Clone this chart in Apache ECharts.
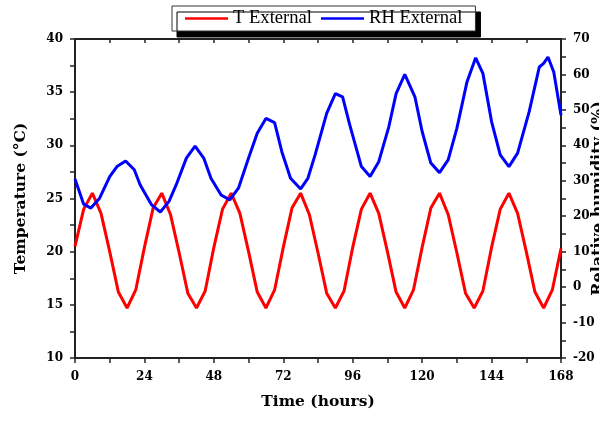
<!DOCTYPE html>
<html>
<head>
<meta charset="utf-8">
<script src="https://cdn.jsdelivr.net/npm/echarts@6/dist/echarts.min.js"></script>
<style>html,body{margin:0;padding:0;background:#fff;}#c{width:599px;height:423px;}</style>
</head>
<body>
<div id="c"></div>
<script>
// Temperature, sampled every 3 hours
var tHours = [0,3,6,9,12,15,18,21,24,27,30,33,36,39,42,45,48,51,54,57,60,63,66,69,72,75,78,81,84,87,90,93,96,99,102,105,108,111,114,117,120,123,126,129,132,135,138,141,144,147,150,153,156,159,162,165,168];
var tValues = [20.5,24.0,25.5,23.6,20.0,16.2,14.7,16.4,
               20.4,24.1,25.5,23.5,19.9,16.1,14.7,16.3,
               20.4,24.0,25.5,23.6,20.0,16.2,14.7,16.4,
               20.4,24.1,25.5,23.5,19.9,16.1,14.7,16.3,
               20.4,24.0,25.5,23.6,20.0,16.2,14.7,16.4,
               20.4,24.1,25.5,23.5,19.9,16.1,14.7,16.3,
               20.4,24.0,25.5,23.6,20.0,16.2,14.7,16.4,
               20.3];
// Relative humidity
var rhHours = [0,3,5.5,8.5,12,14.5,17.5,20.5,22.5,26.5,29.5,32.5,35,38.5,41.5,44.5,47,50.5,53.5,56.5,60,63,66,69,71.5,74.5,78,80.5,83,87,90,92.5,95,99,102,105,108.5,111,114,117.5,120,123,126,129,132,135.5,138.5,141,144,147,150,153,157,160.5,162,163.5,165.5,168];
var rhValues = [30.5,23.4,22.3,25.1,31.2,34.0,35.6,33.1,28.9,23.2,21.2,24.2,28.9,36.4,39.8,36.4,30.7,26.0,24.6,27.9,36.4,43.4,47.6,46.4,38.2,30.7,27.7,30.7,37.3,49.0,54.6,53.7,45.7,34.0,31.2,35.4,45.3,54.6,60.0,53.7,43.9,35.0,32.3,35.9,44.8,57.9,64.7,60.3,46.7,37.3,34.0,37.8,49.5,62.1,63.1,64.9,60.7,48.5];
var seriesNames = ['T External','RH External'];

function pairs(xs, ys){ return xs.map(function(x,i){ return [x, ys[i]]; }); }

var tickFont = {fontFamily:'DejaVu Serif', fontWeight:'bold', fontSize:12, color:'#000'};
var nameFont = {fontFamily:'DejaVu Serif', fontWeight:'bold', fontSize:15.5, color:'#000'};
var axisLine = {show:true, onZero:false, lineStyle:{color:'#222', width:2}};

var chart = echarts.init(document.getElementById('c'), null, {renderer:'canvas'});
chart.setOption({
  animation:false,
  backgroundColor:'#fff',
  grid:{left:75, right:38, top:39, bottom:65, containLabel:false, outerBoundsMode:'none'},
  legend:{
    left:172, top:6,
    data:seriesNames,
    icon:'rect', itemWidth:43, itemHeight:2.5, itemGap:9,
    padding:[3,13,3,13],
    backgroundColor:'#fff', borderColor:'#333', borderWidth:1,
    shadowColor:'#000', shadowBlur:0, shadowOffsetX:5, shadowOffsetY:6,
    textStyle:{fontFamily:'Liberation Serif', fontSize:18.6, color:'#000'}
  },
  xAxis:[{
    type:'value', position:'bottom', min:0, max:168, interval:24,
    axisLine:axisLine,
    axisTick:{show:true, inside:false, length:5, lineStyle:{color:'#222', width:1.5}},
    minorTick:{show:true, splitNumber:2, length:5, lineStyle:{color:'#222', width:1.5}},
    axisLabel:Object.assign({margin:13}, tickFont),
    splitLine:{show:false},
    name:'Time (hours)', nameLocation:'middle', nameGap:36, nameTextStyle:nameFont, nameMoveOverlap:false
  },{
    type:'value', position:'top', min:0, max:168, interval:12,
    axisLine:axisLine,
    axisTick:{show:true, inside:true, length:4, lineStyle:{color:'#222', width:1.5}},
    axisLabel:{show:false}, splitLine:{show:false}
  }],
  yAxis:[{
    type:'value', position:'left', min:10, max:40, interval:5,
    axisLine:axisLine,
    axisTick:{show:true, inside:false, length:5, lineStyle:{color:'#222', width:1.5}},
    minorTick:{show:true, splitNumber:2, length:5, lineStyle:{color:'#222', width:1.5}},
    axisLabel:Object.assign({margin:12}, tickFont),
    splitLine:{show:false},
    name:'Temperature (°C)', nameLocation:'middle', nameGap:46, nameTextStyle:nameFont, nameMoveOverlap:false
  },{
    type:'value', position:'right', min:-20, max:70, interval:10,
    axisLine:axisLine,
    axisTick:{show:true, inside:false, length:5, lineStyle:{color:'#222', width:1.5}},
    minorTick:{show:true, splitNumber:2, length:5, lineStyle:{color:'#222', width:1.5}},
    axisLabel:Object.assign({margin:12}, tickFont),
    splitLine:{show:false},
    name:'Relative humidity (%)', nameLocation:'middle', nameGap:30,
    nameTextStyle:Object.assign({}, nameFont, {fontSize:16}), nameMoveOverlap:false
  }],
  series:[{
    name:seriesNames[0], type:'line', xAxisIndex:0, yAxisIndex:0,
    data:pairs(tHours, tValues), showSymbol:false, symbol:'none',
    lineStyle:{color:'#ff0000', width:3}, itemStyle:{color:'#ff0000'}
  },{
    name:seriesNames[1], type:'line', xAxisIndex:0, yAxisIndex:1,
    data:pairs(rhHours, rhValues), showSymbol:false, symbol:'none',
    lineStyle:{color:'#0000ff', width:3}, itemStyle:{color:'#0000ff'}
  }]
});
</script>
</body>
</html>
